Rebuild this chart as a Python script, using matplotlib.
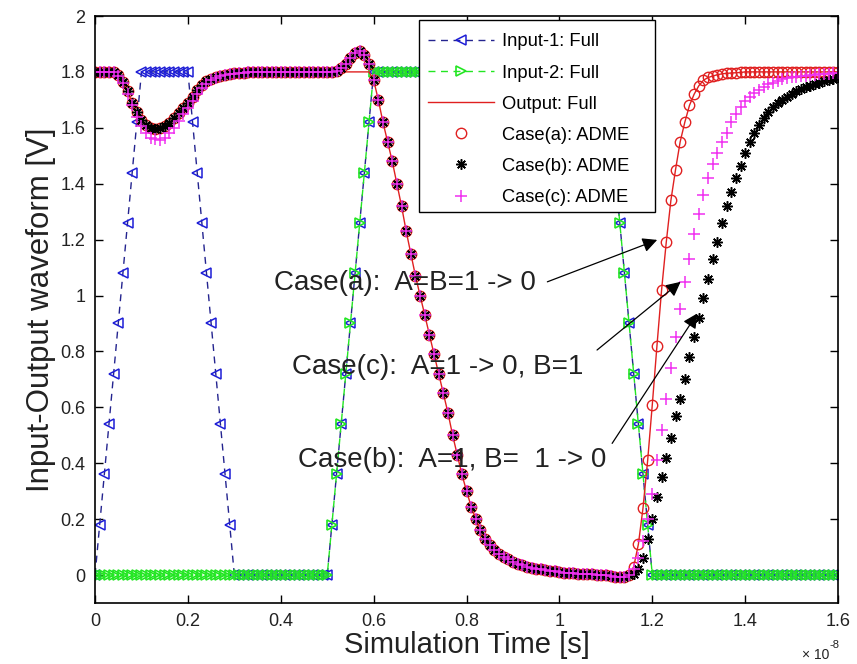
import numpy as np
import matplotlib
matplotlib.use("Agg")
import matplotlib.pyplot as plt
from matplotlib.ticker import FuncFormatter
from matplotlib.patches import Rectangle

plt.rcParams['font.family'] = ['Liberation Sans', 'DejaVu Sans']

# ---------------- data (time in units of 1e-8 s, sampled every 0.01) ----------------
time_1e8 = np.arange(161) / 100.0

ramp_up = [0.18, 0.36, 0.54, 0.72, 0.90, 1.08, 1.26, 1.44, 1.62, 1.80]
ramp_dn = [1.62, 1.44, 1.26, 1.08, 0.90, 0.72, 0.54, 0.36, 0.18, 0.0]

input1 = ([0.0] + ramp_up + [1.8] * 10 + ramp_dn + [0.0] * 20 + ramp_up
          + [1.8] * 50 + ramp_dn + [0.0] * 40)
input2 = ([0.0] * 51 + ramp_up + [1.8] * 50 + ramp_dn + [0.0] * 40)

out_dip = [1.8, 1.8, 1.8, 1.8, 1.8, 1.79, 1.765, 1.73, 1.69, 1.655, 1.628, 1.61, 1.60,
           1.597, 1.598, 1.605, 1.618, 1.635, 1.652, 1.67, 1.69, 1.712, 1.735, 1.753,
           1.766, 1.775, 1.781, 1.786, 1.79, 1.793, 1.795, 1.796, 1.797, 1.798, 1.798]
out_high = [1.8] * 25
out_fall = [1.77, 1.70, 1.62, 1.55, 1.48, 1.40, 1.32, 1.23, 1.15, 1.07, 1.00, 0.93,
            0.86, 0.79, 0.72, 0.65, 0.58, 0.50, 0.43, 0.36, 0.30, 0.245, 0.20, 0.16,
            0.13, 0.108, 0.09, 0.076, 0.065, 0.056, 0.048, 0.041, 0.035, 0.030, 0.026,
            0.023, 0.020, 0.017, 0.015, 0.013, 0.011, 0.009, 0.008, 0.006, 0.005, 0.004,
            0.003, 0.002, 0.001, 0.0, 0.0, -0.003, -0.006, -0.008, -0.008, 0.0]
out_rise = [0.03, 0.11, 0.24, 0.41, 0.61, 0.82, 1.02, 1.19, 1.34, 1.45, 1.55, 1.62,
            1.68, 1.72, 1.75, 1.77, 1.78, 1.785, 1.79, 1.793, 1.795, 1.796, 1.797,
            1.798] + [1.8] * 21
output_full = out_dip + out_high + out_fall + out_rise

overshoot = [1.805, 1.815, 1.83, 1.85, 1.868, 1.875, 1.862, 1.83]
case_a = output_full[:52] + overshoot + output_full[60:]

case_b_rise = [0.005, 0.02, 0.06, 0.13, 0.20, 0.28, 0.35, 0.42, 0.49, 0.57, 0.63, 0.70,
               0.78, 0.85, 0.92, 0.99, 1.06, 1.13, 1.19, 1.26, 1.32, 1.37, 1.42, 1.465,
               1.51, 1.55, 1.58, 1.61, 1.635, 1.655, 1.675, 1.69, 1.70, 1.712, 1.722,
               1.73, 1.738, 1.745, 1.75, 1.756, 1.761, 1.766, 1.771, 1.775, 1.78]
case_b = case_a[:116] + case_b_rise

case_c_dip = [1.785, 1.76, 1.72, 1.68, 1.64, 1.605, 1.58, 1.565, 1.56, 1.558, 1.565,
              1.58, 1.60, 1.625, 1.648, 1.672, 1.697, 1.72, 1.742, 1.758, 1.77, 1.778,
              1.784, 1.788, 1.792, 1.794]
case_c_rise = [0.02, 0.06, 0.12, 0.20, 0.29, 0.41, 0.52, 0.63, 0.74, 0.85, 0.95, 1.05,
               1.13, 1.22, 1.29, 1.36, 1.42, 1.47, 1.51, 1.55, 1.58, 1.62, 1.65, 1.675,
               1.695, 1.712, 1.725, 1.737, 1.747, 1.755, 1.762, 1.768, 1.773, 1.777,
               1.78, 1.783, 1.785, 1.787, 1.789, 1.79, 1.792, 1.793, 1.794, 1.795, 1.796]
case_c = case_a[:5] + case_c_dip + case_a[31:116] + case_c_rise

labels = ['Input-1: Full', 'Input-2: Full', 'Output: Full',
          'Case(a): ADME', 'Case(b): ADME', 'Case(c): ADME']
xticks = [0, 0.2, 0.4, 0.6, 0.8, 1.0, 1.2, 1.4, 1.6]
yticks = [0, 0.2, 0.4, 0.6, 0.8, 1.0, 1.2, 1.4, 1.6, 1.8, 2.0]

# ---------------- figure ----------------
fig = plt.figure(figsize=(8.57, 6.64), dpi=100)
ax = fig.add_axes([0.1109, 0.0919, 0.867, 0.884])

blue_line = '#24248f'
blue = '#1e1ed6'
green = '#22e622'
red = '#e02020'
mag = '#f030f0'
asterisk = (8, 2, 0)

ax.plot(time_1e8, input1, '--', color=blue_line, lw=1.0, dashes=(5, 4), marker='<',
        ms=7, mfc='none', mec=blue, mew=1.1, label=labels[0])
ax.plot(time_1e8, input2, '--', color=green, lw=1.0, dashes=(5, 4), marker='>', ms=7,
        mfc='none', mec=green, mew=1.2, label=labels[1])
ax.plot(time_1e8, output_full, '-', color=red, lw=1.0, label=labels[2])
ax.plot(time_1e8, case_a, 'o', ls='none', ms=7.5, mfc='none', mec=red, mew=1.0,
        label=labels[3])
ax.plot(time_1e8, case_b, ls='none', marker=asterisk, ms=7.5, color='black', mew=1.1,
        label=labels[4])
ax.plot(time_1e8, case_c, '+', ls='none', ms=8.5, color=mag, mew=1.1, label=labels[5])

ax.set_xlim(0, 1.6)
ax.set_ylim(-0.1, 2.0)
ax.set_xticks(xticks)
ax.set_yticks(yticks)
fmt = FuncFormatter(lambda v, p: '%g' % round(v, 2))
ax.xaxis.set_major_formatter(fmt)
ax.yaxis.set_major_formatter(fmt)
ax.tick_params(direction='in', length=6, width=1.0, top=True, right=True,
               labelsize=13, labelcolor='#222222', pad=7)
for s in ax.spines.values():
    s.set_linewidth(1.2)

ax.set_xlabel('Simulation Time [s]', fontsize=21, color='#222222', labelpad=1)
ax.set_ylabel('Input-Output waveform [V]', fontsize=22.5, color='#222222', labelpad=3)

ax.text(0.988, -0.089, '× 10', transform=ax.transAxes, ha='right', va='center',
        fontsize=10, color='#222222')
ax.text(0.988, -0.072, '-8', transform=ax.transAxes, ha='left', va='center',
        fontsize=8, color='#222222')

# legend box drawn as a frame patch matching the reference size
frame = Rectangle((0.436, 0.666), 0.3177, 0.3272, transform=ax.transAxes,
                  facecolor='white', edgecolor='black', lw=1.0, zorder=4.9)
ax.add_patch(frame)
leg = ax.legend(loc='upper left', bbox_to_anchor=(0.436, 0.986), fontsize=13.2,
                frameon=False, handlelength=3.6, handletextpad=0.45,
                labelspacing=0.77, borderpad=0.5, borderaxespad=0, numpoints=1)
leg.set_zorder(5)

# annotations
txt_kw = dict(fontsize=20, color='#222222', va='center', ha='left')
ax.text(0.385, 1.045, 'Case(a):  A=B=1 -> 0', **txt_kw)
ax.text(0.425, 0.745, 'Case(c):  A=1 -> 0, B=1', **txt_kw)
ax.text(0.436, 0.411, 'Case(b):  A=1, B=  1 -> 0', **txt_kw)
arrow_kw = dict(arrowstyle='-|>', color='black', lw=0.9, mutation_scale=22,
                shrinkA=0, shrinkB=0)
ax.annotate('', xy=(1.2105, 1.199), xytext=(0.974, 1.049), arrowprops=arrow_kw)
ax.annotate('', xy=(1.261, 1.049), xytext=(1.081, 0.805), arrowprops=arrow_kw)
ax.annotate('', xy=(1.297, 0.936), xytext=(1.1135, 0.471), arrowprops=arrow_kw)

fig.savefig('out.png', dpi=100)
